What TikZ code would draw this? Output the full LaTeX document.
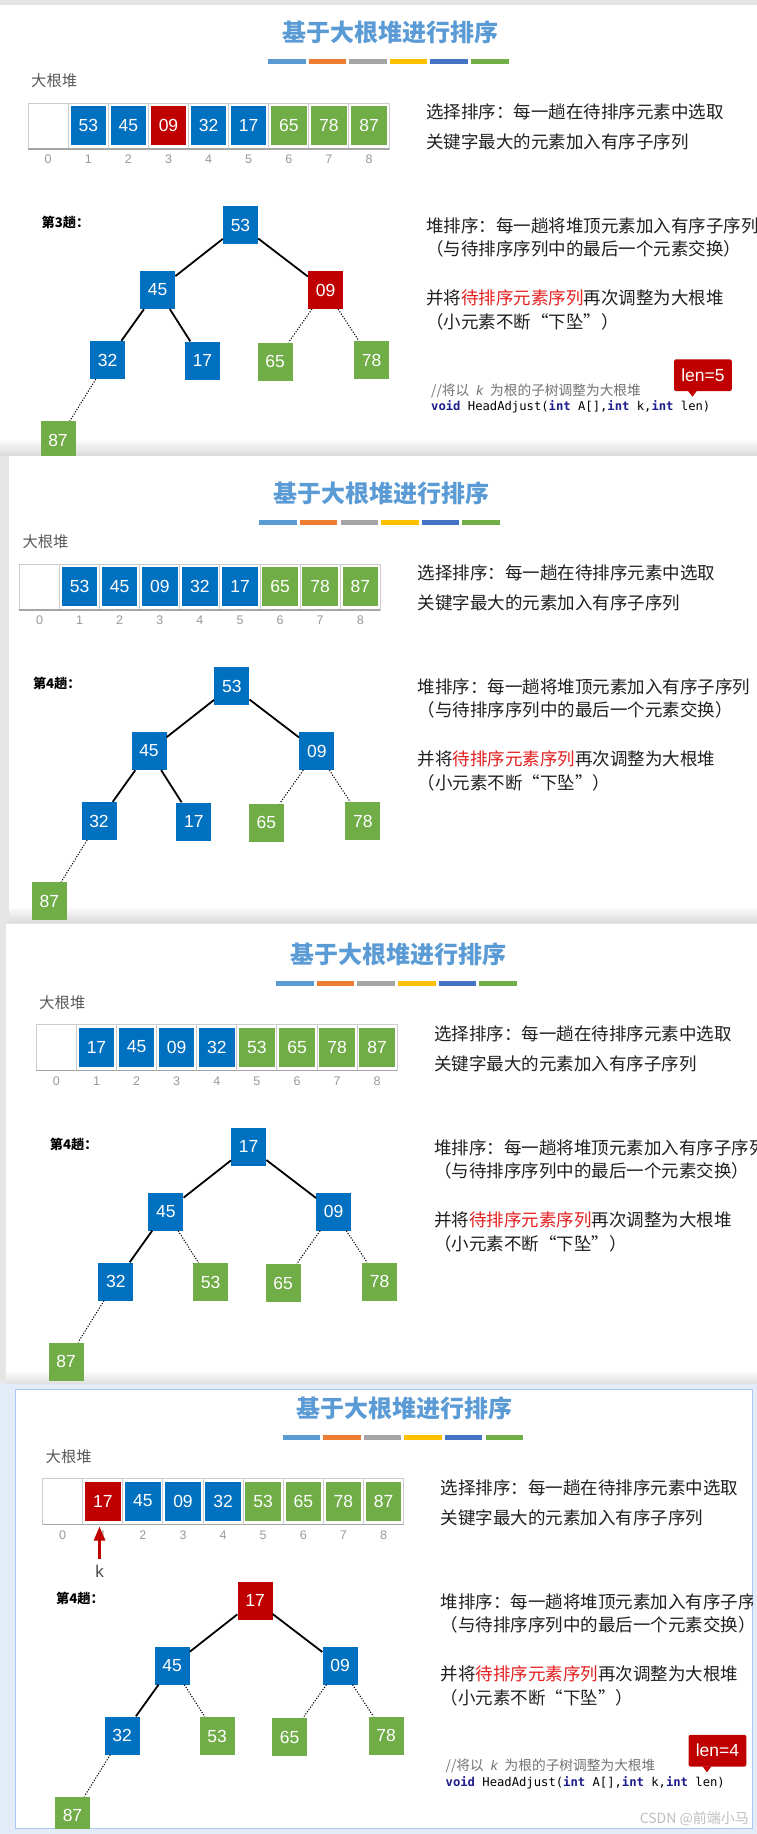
\documentclass[tikz,border=0pt]{standalone}
\usepackage{fontspec}
\setmainfont{Liberation Sans}
\newfontfamily\cjk{Noto Sans CJK SC}
\newfontfamily\codefont{DejaVu Sans Mono}
\usetikzlibrary{arrows.meta}

\definecolor{heapblue}{HTML}{0070C0}
\definecolor{heapred}{HTML}{C00000}
\definecolor{heapgreen}{HTML}{70AD47}
\definecolor{titleblue}{HTML}{5B9BD5}
\definecolor{barorange}{HTML}{ED7D31}
\definecolor{bargray}{HTML}{A5A5A5}
\definecolor{baryellow}{HTML}{FFC000}
\definecolor{bardark}{HTML}{4472C4}
\definecolor{codeblue}{HTML}{1C1C8C}
\definecolor{hotred}{HTML}{E41E1E}
\definecolor{frameblue}{HTML}{A9C9F2}

\newcommand{\kw}[1]{\textcolor{codeblue}{\bfseries #1}}

\tikzset{
  key/.style={minimum width=35pt, minimum height=38pt, inner sep=0pt, text=white,
    font=\fontsize{17.5}{20}\selectfont},
  bkey/.style={key, fill=heapblue},
  rkey/.style={key, fill=heapred},
  gkey/.style={key, fill=heapgreen},
  link/.style={line width=1.8pt},
  weak/.style={line width=1.1pt, dash pattern=on 1.1pt off 1.6pt},
  cellline/.style={draw=black!20, line width=0.8pt},
  idx/.style={text=black!40, font=\fontsize{12.5}{15}\selectfont, inner sep=0pt},
  note/.style={anchor=west, inner sep=0pt, text=black!88, font=\cjk\fontsize{17.5}{20}\selectfont},
  lenbox/.style={fill=heapred, rounded corners=2pt, text=white, inner sep=0pt,
    minimum width=57.7pt, minimum height=31.7pt, font=\fontsize{17.5}{20}\selectfont}
}

% title, colour bar and the two explanations
\newcommand{\slidehead}[1]{%
  \node[text=titleblue, font=\cjk\bfseries\fontsize{24}{28}\selectfont] (title) at (390,32.5) {基于大根堆进行排序};
  \foreach \col [count=\k from 0] in {titleblue,barorange,bargray,baryellow,bardark,heapgreen}
    \fill[\col] (268+40.6*\k,59) rectangle ++(37.5,5);
  \node[anchor=west, inner sep=0pt, text=black!65, font=\cjk\fontsize{15.3}{18}\selectfont] (bigheap) at (31,81) {大根堆};
  \node[anchor=west, inner sep=0pt, font=\cjk\bfseries\fontsize{13.2}{15}\selectfont] (pass) at (41.5,222.5) {#1};
  \node[note] (sel1) at (426,112) {选择排序：每一趟在待排序元素中选取};
  \node[note] (sel2) at (426,142) {关键字最大的元素加入有序子序列};
  \node[note] (hp1) at (426,226) {堆排序：每一趟将堆顶元素加入有序子序列};
  \node[note] (hp2) at (426,249) {（与待排序序列中的最后一个元素交换）};
  \node[note] (hp3) at (426,298) {并将\textcolor{hotred}{待排序元素序列}再次调整为大根堆};
  \node[note] (hp4) at (426,322) {（小元素不断“下坠”）};
}

% the array A[0..8]
\newcommand{\heaparray}[1]{%
  \foreach \i in {0,...,8}
    \draw[cellline] (28+40.1*\i,103) rectangle ++(40.1,46);
  \draw[black!35, line width=1.5pt] (28,149) -- (389,149);
  \foreach \i/\v/\s in {#1}
    \node[\s, minimum width=35.5pt, minimum height=39pt] (cell\i) at (48.2+40.1*\i,125.5) {\v};
  \foreach \i in {0,...,8}
    \node[idx] (idx\i) at (48.2+40.1*\i,159.5) {\i};
}

% the heap as a tree
\newcommand{\heaptree}[2]{%
  \coordinate (pr) at (240.5,225);
  \coordinate (pa) at (157.7,290);
  \coordinate (pb) at (325.5,290);
  \coordinate (pc) at (107.7,360);
  \coordinate (pd) at (202.5,360.5);
  \coordinate (pe) at (275,361.5);
  \coordinate (pf) at (371.5,360);
  \coordinate (pg) at (58,440);
  \foreach \n/\s/\v in {#1}
    \node[\s] (\n) at (p\n) {\v};
  \foreach \p/\q/\s in {#2}
    \draw[\s] (\p) -- (\q);
}

% comment, signature and len label
\newcommand{\headcode}[1]{%
  \node[anchor=west, inner sep=0pt, text=black!55, font=\cjk\fontsize{13.7}{16}\selectfont] (cmt) at (431,390.5)
    {//将以\hspace{7pt}{\rmfamily\itshape k}\hspace{7pt}为根的子树调整为大根堆};
  \node[anchor=west, inner sep=0pt, font=\codefont\fontsize{12.2}{14}\selectfont] (sig) at (431,407)
    {\kw{void} HeadAdjust(\kw{int} A[],\kw{int} k,\kw{int} len)};
  \node[lenbox] (len) at (702.9,375.2) {#1};
  \fill[heapred] ([xshift=-15pt,yshift=0.5pt]len.south) -- ([xshift=-6pt,yshift=0.5pt]len.south)
    -- ([xshift=-10.4pt,yshift=-5.5pt]len.south) -- cycle;
}

\begin{document}
\begin{tikzpicture}[x=1pt,y=-1pt]
  \useasboundingbox (0,0) rectangle (757,1834);
  \fill[black!10] (0,0) rectangle (757,1834);
  \fill[black!4!frameblue!30] (0,1383) rectangle (757,1834);

  % slide 1
  \begin{scope}
    \clip (0,5) rectangle (757,455);
    \fill[white] (0,5) rectangle (757,455);
    \shade[top color=white, bottom color=black!14] (0,438) rectangle (757,455);
    \slidehead{第3趟：}
    \heaparray{1/53/bkey,2/45/bkey,3/09/rkey,4/32/bkey,5/17/bkey,6/65/gkey,7/78/gkey,8/87/gkey}
    \heaptree{r/bkey/53,a/bkey/45,b/rkey/09,c/bkey/32,d/bkey/17,e/gkey/65,f/gkey/78,g/gkey/87}
      {r/a/link,r/b/link,a/c/link,a/d/link,b/e/weak,b/f/weak,c/g/weak}
    \headcode{len=5}
  \end{scope}

  % slide 2
  \begin{scope}
    \clip (9,456) rectangle (757,922);
    \fill[white] (9,456) rectangle (757,922);
    \shade[top color=white, bottom color=black!14] (9,906) rectangle (757,922);
    \begin{scope}[shift={(-8.7,461)}]
      \slidehead{第4趟：}
      \heaparray{1/53/bkey,2/45/bkey,3/09/bkey,4/32/bkey,5/17/bkey,6/65/gkey,7/78/gkey,8/87/gkey}
      \heaptree{r/bkey/53,a/bkey/45,b/bkey/09,c/bkey/32,d/bkey/17,e/gkey/65,f/gkey/78,g/gkey/87}
        {r/a/link,r/b/link,a/c/link,a/d/link,b/e/weak,b/f/weak,c/g/weak}
    \end{scope}
  \end{scope}

  % slide 3
  \begin{scope}
    \clip (6,924) rectangle (757,1383);
    \fill[white] (6,924) rectangle (757,1383);
    \shade[top color=white, bottom color=black!12] (6,1370) rectangle (757,1383);
    \begin{scope}[shift={(8.2,921.5)}]
      \slidehead{第4趟：}
      \heaparray{1/17/bkey,2/45/bkey,3/09/bkey,4/32/bkey,5/53/gkey,6/65/gkey,7/78/gkey,8/87/gkey}
      \heaptree{r/bkey/17,a/bkey/45,b/bkey/09,c/bkey/32,d/gkey/53,e/gkey/65,f/gkey/78,g/gkey/87}
        {r/a/link,r/b/link,a/c/link,a/d/weak,b/e/weak,b/f/weak,c/g/weak}
    \end{scope}
  \end{scope}

  % slide 4
  \draw[frameblue, line width=2.5pt] (16,1390) rectangle (752,1828);
  \begin{scope}
    \clip (16,1390) rectangle (752,1828);
    \fill[white] (16,1390) rectangle (752,1828);
    \begin{scope}[shift={(14.5,1375.5)}]
      \slidehead{第4趟：}
      \heaparray{1/17/rkey,2/45/bkey,3/09/bkey,4/32/bkey,5/53/gkey,6/65/gkey,7/78/gkey,8/87/gkey}
      \heaptree{r/rkey/17,a/bkey/45,b/bkey/09,c/bkey/32,d/gkey/53,e/gkey/65,f/gkey/78,g/gkey/87}
        {r/a/link,r/b/link,a/c/link,a/d/weak,b/e/weak,b/f/weak,c/g/weak}
      \headcode{len=4}
      \coordinate (ktail) at (85,183);
      \coordinate (ktip) at (85,151);
      \draw[heapred, line width=2.2pt, -{Triangle[width=11pt,length=14pt]}] (ktail) -- (ktip);
      \node[text=black!70, inner sep=0pt, font=\fontsize{17}{20}\selectfont] (kmark) at (85,196) {k};
    \end{scope}
    \node[anchor=east, inner sep=0pt, text=black!25, font=\cjk\fontsize{14}{16}\selectfont] (mark) at (749,1819) {CSDN @前端小马};
  \end{scope}
\end{tikzpicture}
\end{document}
